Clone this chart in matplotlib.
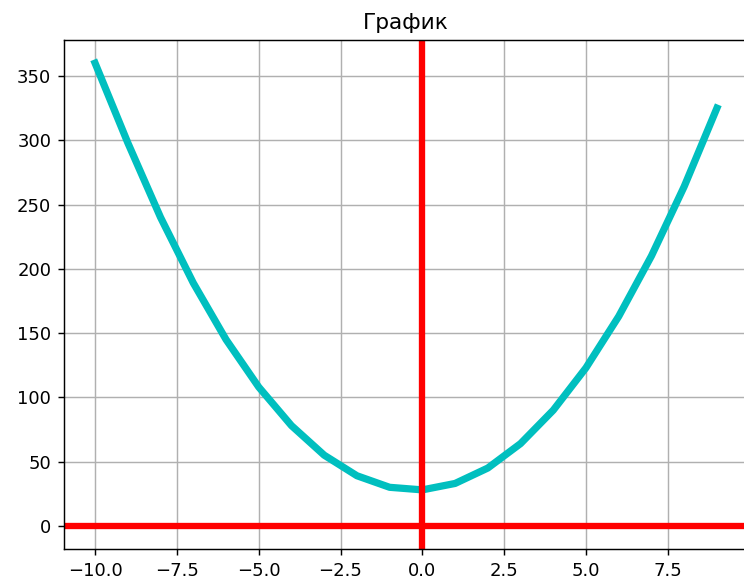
import matplotlib
matplotlib.use('Agg')
import matplotlib.pyplot as plt

# values
x_vals = [-10, -9, -8, -7, -6, -5, -4, -3, -2, -1, 0, 1, 2, 3, 4, 5, 6, 7, 8, 9]
y_vals = [360, 298, 240, 189, 145, 108, 78, 55, 39, 30, 28, 33, 45, 64, 90, 123, 163, 210, 264, 325]
title = 'График'

DPI = 130
fig = plt.figure(figsize=(744 / DPI, 585 / DPI), dpi=DPI)
ax = fig.add_axes([64 / 744, 36 / 585, 684 / 744, 509 / 585])

ax.plot(x_vals, y_vals, color='c', linewidth=4)
ax.axhline(0, color='r', linewidth=3.5)
ax.axvline(0, color='r', linewidth=3.5)
ax.grid(True)
ax.set_title(title)

fig.savefig('out.png', dpi=DPI)
